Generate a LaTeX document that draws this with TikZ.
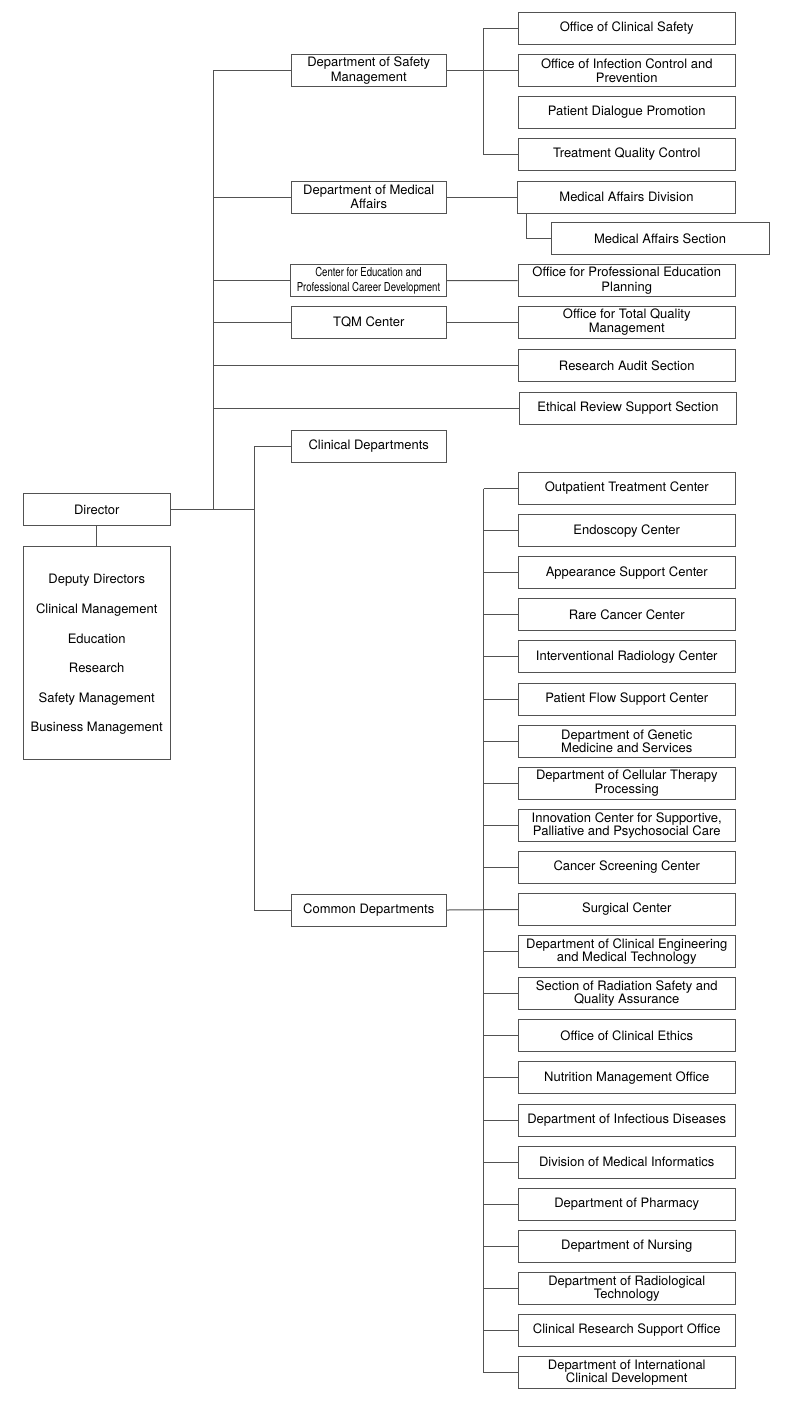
\documentclass[tikz,border=0pt]{standalone}
\usepackage{fontspec}
\setmainfont{TeX Gyre Heros}
\newfontfamily\condfont[FakeStretch=0.78]{TeX Gyre Heros}
\begin{document}
\begin{tikzpicture}[x=1pt,y=-1pt,
  ln/.style={draw=black!68, line width=1pt},
  box/.style={ln, rectangle, align=center, inner sep=0pt, font=\fontsize{13}{14.2}\selectfont},
  lvtwo/.style={box, minimum width=155.5, minimum height=32.4},
  rbox/.style={box, minimum width=217.5, minimum height=32.4},
  cbox/.style={box, minimum width=217.5, minimum height=32, font=\fontsize{13}{13.5}\selectfont}]
\useasboundingbox (0,0) rectangle (800,1417);
\fill[white] (0,0) rectangle (800,1417);

% Director and deputies
\node[box, minimum width=146.7, minimum height=32.4] (dir) at (96.7,509.5) {Director};
\node[box, minimum width=146.7, minimum height=213.3] (dep) at (96.7,652.7) {};
\node[align=center, inner sep=0pt, font=\fontsize{13}{29.6}\selectfont] (deptxt) at (96.7,654.6)
  {Deputy Directors\\Clinical Management\\Education\\Research\\Safety Management\\Business Management};

% second level
\node[lvtwo] (dsm) at (368.75,70.5) {Department of Safety\\Management};
\node[lvtwo] (dma) at (368.75,197.2) {Department of Medical\\Affairs};
\node[lvtwo, font=\condfont\fontsize{12.3}{14.3}\selectfont] (ced) at (368.5,280.7) {Center for Education and\\Professional Career Development};
\node[lvtwo] (tqm) at (368.75,322.4) {TQM Center};
\node[lvtwo] (cld) at (368.75,446.3) {Clinical Departments};
\node[lvtwo, minimum height=32] (cmd) at (368.75,910) {Common Departments};

% right column (upper)
\node[rbox] (ocs) at (626.75,28.5) {Office of Clinical Safety};
\node[rbox] (oic) at (626.75,70.5) {Office of Infection Control and\\Prevention};
\node[rbox] (pdp) at (626.75,112.4) {Patient Dialogue Promotion};
\node[rbox] (tqc) at (626.75,154.2) {Treatment Quality Control};
\node[rbox] (mad) at (626.5,197.2) {Medical Affairs Division};
\node[rbox, minimum width=218] (mas) at (660,238.3) {Medical Affairs Section};
\node[rbox] (ope) at (626.75,280.6) {Office for Professional Education\\Planning};
\node[rbox] (otq) at (626.75,322.4) {Office for Total Quality\\Management};
\node[rbox] (ras) at (626.75,365.3) {Research Audit Section};
\node[rbox] (ers) at (628,408.3) {Ethical Review Support Section};

% common departments list
\node[cbox] (c1) at (626.75,488.5) {Outpatient Treatment Center};
\node[cbox] (c2) at (626.75,530.6) {Endoscopy Center};
\node[cbox] (c3) at (626.75,572.7) {Appearance Support Center};
\node[cbox] (c4) at (626.75,614.8) {Rare Cancer Center};
\node[cbox] (c5) at (626.75,656.9) {Interventional Radiology Center};
\node[cbox] (c6) at (626.75,699.0) {Patient Flow Support Center};
\node[cbox] (c7) at (626.75,741.1) {Department of Genetic\\Medicine and Services};
\node[cbox] (c8) at (626.75,783.2) {Department of Cellular Therapy\\Processing};
\node[cbox] (c9) at (626.75,825.3) {Innovation Center for Supportive,\\Palliative and Psychosocial Care};
\node[cbox] (c10) at (626.75,867.4) {Cancer Screening Center};
\node[cbox] (c11) at (626.75,909.5) {Surgical Center};
\node[cbox] (c12) at (626.75,951.6) {Department of Clinical Engineering\\and Medical Technology};
\node[cbox] (c13) at (626.75,993.7) {Section of Radiation Safety and\\Quality Assurance};
\node[cbox] (c14) at (626.75,1035.8) {Office of Clinical Ethics};
\node[cbox] (c15) at (626.75,1077.9) {Nutrition Management Office};
\node[cbox] (c16) at (626.75,1120.0) {Department of Infectious Diseases};
\node[cbox] (c17) at (626.75,1162.1) {Division of Medical Informatics};
\node[cbox] (c18) at (626.75,1204.2) {Department of Pharmacy};
\node[cbox] (c19) at (626.75,1246.3) {Department of Nursing};
\node[cbox] (c20) at (626.75,1288.4) {Department of Radiological\\Technology};
\node[cbox] (c21) at (626.75,1330.5) {Clinical Research Support Office};
\node[cbox] (c22) at (626.75,1372.6) {Department of International\\Clinical Development};

% helper coordinates
\coordinate (t1) at (213.5,509.5);
\coordinate (t2) at (254.7,509.5);
\coordinate (sx) at (483.5,0);

% connectors from director
\draw[ln] (dir.south) -- (dep.north);
\draw[ln] (dir.east) -- (t2);
\draw[ln] (t1) |- (dsm.west);
\draw[ln] (t1 |- dma.west) -- (dma.west);
\draw[ln] (t1 |- ced.west) -- (ced.west);
\draw[ln] (t1 |- tqm.west) -- (tqm.west);
\draw[ln] (t1 |- ras.west) -- (ras.west);
\draw[ln] (t1 |- ers.west) -- (ers.west);
\draw[ln] (t2) |- (cld.west);
\draw[ln] (t2) |- (cmd.west);

% safety management
\draw[ln] (dsm.east) -- (oic.west);
\draw[ln] (ocs.west) -- (ocs.west -| sx) -- (tqc.west -| sx) -- (tqc.west);

% medical affairs
\draw[ln] (dma.east) -- (mad.west);
\draw[ln] ([xshift=9.2pt]mad.south west) |- (mas.west);

% education, TQM
\draw[ln] (ced.east) -- (ope.west);
\draw[ln] (tqm.east) -- (otq.west);

% common departments
\draw[ln] (cmd.east) -- (c11.west);
\draw[ln] (c1.west -| sx) -- (c22.west -| sx);
\foreach \i in {1,...,22} {
  \draw[ln] (c\i.west -| sx) -- (c\i.west);
}
\end{tikzpicture}
\end{document}
